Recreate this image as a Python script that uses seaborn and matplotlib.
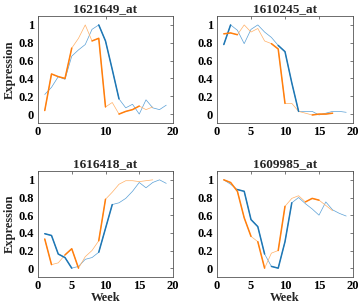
import seaborn as sns
import matplotlib.pyplot as plt
import pandas as pd

sns.set_style('white')
plt.rcParams['font.family'] = ['Liberation Serif', 'DejaVu Serif']

titles = ['1621649_at', '1610245_at', '1616418_at', '1609985_at']

week_a = list(range(1, 20))
week_b = list(range(1, 18))

blue = [
    [0.22, 0.30, 0.42, 0.39, 0.65, 0.72, 0.78, 0.95, 1.00, 0.82, 0.50, 0.17, 0.07, 0.11, 0.00, 0.16, 0.07, 0.05, 0.10],
    [0.78, 1.00, 0.94, 0.79, 0.95, 1.00, 0.92, 0.86, 0.77, 0.70, 0.35, 0.03, 0.03, 0.03, -0.01, 0.01, 0.03, 0.03, 0.02],
    [0.39, 0.37, 0.16, 0.12, 0.00, 0.02, 0.10, 0.12, 0.18, 0.45, 0.72, 0.74, 0.79, 0.87, 0.97, 0.91, 0.97, 1.00, 0.96],
    [1.00, 0.95, 0.89, 0.87, 0.55, 0.47, 0.16, 0.02, 0.00, 0.30, 0.74, 0.80, 0.73, 0.67, 0.60, 0.75, 0.66, 0.62, 0.59],
]
orange = [
    [0.04, 0.45, 0.42, 0.40, 0.74, 0.85, 1.00, 0.82, 0.85, 0.08, 0.13, 0.00, 0.03, 0.05, 0.09, 0.05, 0.08],
    [0.90, 0.91, 0.89, 1.00, 0.92, 0.96, 0.82, 0.79, 0.73, 0.12, 0.12, 0.03, 0.01, -0.01, 0.00, 0.00, 0.01],
    [0.33, 0.04, 0.06, 0.15, 0.22, 0.00, 0.13, 0.20, 0.31, 0.78, 0.86, 0.95, 0.99, 0.99, 0.98, 0.99, 1.00],
    [1.00, 0.97, 0.87, 0.57, 0.36, 0.30, 0.00, 0.17, 0.20, 0.70, 0.79, 0.82, 0.75, 0.79, 0.77, 0.71, 0.65],
]
# week ranges where the line is drawn heavy
blue_heavy = [[(9, 12)], [(1, 2), (9, 12)], [(1, 5), (9, 11)], [(3, 7), (8, 11)]]
orange_heavy = [[(1, 5), (8, 10), (12, 15)], [(1, 3), (8, 10), (14, 17)],
                [(1, 2), (4, 6), (9, 10)], [(1, 5), (6, 7), (9, 10), (13, 15)]]

c_blue = '#1f77b4'
c_orange = '#ff7f0e'

fig = plt.figure(figsize=(3.58, 3.05), dpi=100)
W, H = 358, 305
boxes = [(38, 16, 135, 107), (217, 16, 136, 107), (38, 171, 135, 106), (217, 171, 136, 106)]

for i in range(4):
    l, t, w, h = boxes[i]
    ax = fig.add_axes([l / W, 1 - (t + h) / H, w / W, h / H])
    dfb = pd.DataFrame({'week': week_a, 'val': blue[i]})
    dfo = pd.DataFrame({'week': week_b, 'val': orange[i]})
    sns.lineplot(data=dfb, x='week', y='val', ax=ax, color='#5aa0d6', lw=0.5)
    sns.lineplot(data=dfo, x='week', y='val', ax=ax, color='#ffb066', lw=0.5)
    for a, b in blue_heavy[i]:
        sub = dfb[(dfb.week >= a) & (dfb.week <= b)]
        sns.lineplot(data=sub, x='week', y='val', ax=ax, color=c_blue, lw=1.1)
    for a, b in orange_heavy[i]:
        sub = dfo[(dfo.week >= a) & (dfo.week <= b)]
        sns.lineplot(data=sub, x='week', y='val', ax=ax, color=c_orange, lw=1.1)
    ax.set_xlim(0, 20)
    ax.set_ylim(-0.1, 1.1)
    ax.set_yticks([0, 0.2, 0.4, 0.6, 0.8, 1])
    ax.set_yticklabels(['0', '0.2', '0.4', '0.6', '0.8', '1'])
    if i == 0:
        ax.set_xticks([0, 10, 20])
    else:
        ax.set_xticks([0, 5, 10, 15, 20])
    ax.tick_params(direction='in', length=2, width=0.5, labelsize=9, pad=3,
                   top=True, right=True, colors='#444444', labelcolor='black')
    ax.tick_params(axis='x', pad=2)
    for lab in ax.get_xticklabels() + ax.get_yticklabels():
        lab.set_fontweight('bold')
    for s in ax.spines.values():
        s.set_color('#555555')
        s.set_linewidth(0.6)
    ax.set_title(titles[i], fontsize=9.5, fontweight='bold', pad=3)
    ax.set_xlabel('Week' if i >= 2 else '', fontsize=9, fontweight='bold', labelpad=0)
    ax.set_ylabel('Expression' if i % 2 == 0 else '', fontsize=9, fontweight='bold', labelpad=2)

fig.savefig('out.png', dpi=100)
